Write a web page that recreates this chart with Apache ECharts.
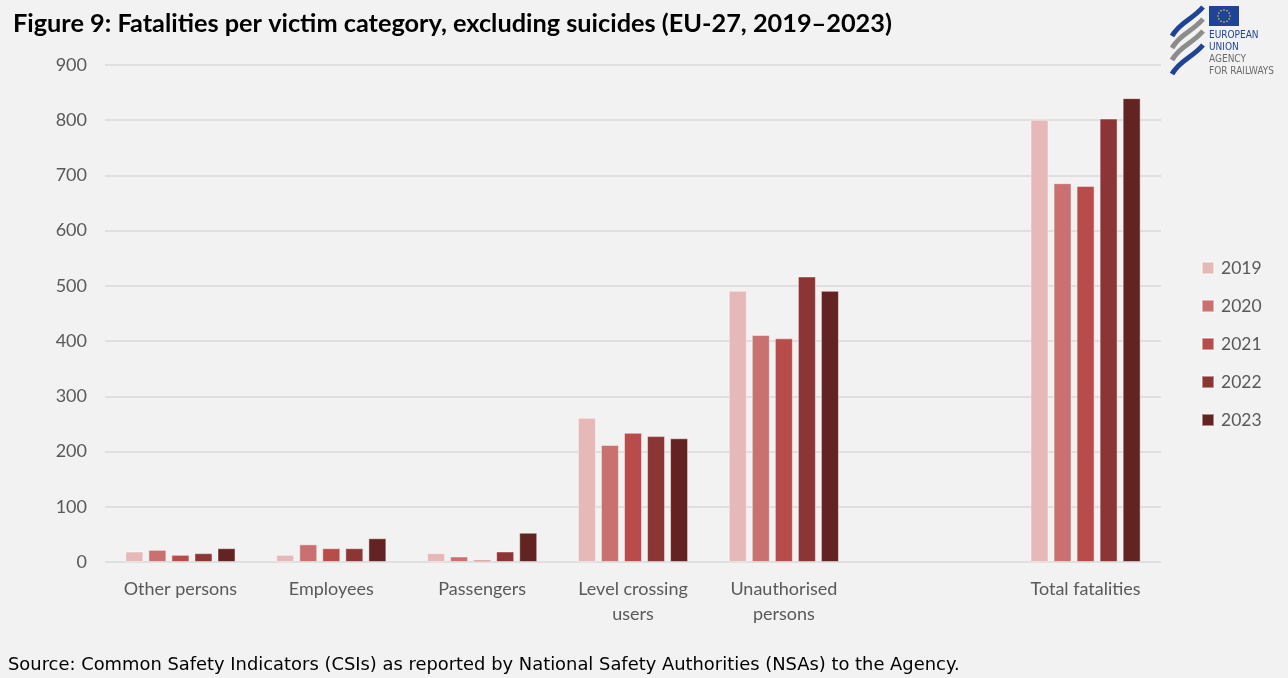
<!DOCTYPE html>
<html>
<head>
<meta charset="utf-8">
<script src="https://cdn.jsdelivr.net/npm/echarts@6/dist/echarts.min.js"></script>
<style>
  html, body { margin: 0; padding: 0; background: #f2f2f2; }
  #chart { width: 1288px; height: 678px; }
</style>
</head>
<body>
<div id="chart"></div>
<script>
// Victim categories; the empty slot separates the total from the breakdown
const categories = ['Other persons', 'Employees', 'Passengers', 'Level crossing\nusers', 'Unauthorised\npersons', '', 'Total fatalities'];
const years = ['2019', '2020', '2021', '2022', '2023'];
const yearColors = ['#e6b8b7', '#c87170', '#b84c4a', '#8b3534', '#632322'];

// Fatalities per year, in category order ('-' = empty slot)
const values2019 = [19, 13, 16, 261, 491, '-', 801];
const values2020 = [22, 32, 10, 212, 411, '-', 686];
const values2021 = [13, 25, 4, 234, 405, '-', 681];
const values2022 = [16, 25, 19, 228, 517, '-', 803];
const values2023 = [25, 43, 53, 224, 491, '-', 840];
const seriesValues = [values2019, values2020, values2021, values2022, values2023];

const yTicks = { min: 0, max: 900, interval: 100 };

const titleText = 'Figure 9: Fatalities per victim category, excluding suicides (EU-27, 2019\u20132023)';
const sourceText = 'Source: Common Safety Indicators (CSIs) as reported by National Safety Authorities (NSAs) to the Agency.';

const chart = echarts.init(document.getElementById('chart'), null, { renderer: 'canvas' });

const labelFont = 'Lato, "Open Sans", sans-serif';

// Agency logo: striped emblem, EU flag and name
const logo = [];
const stripes = [
  { y: 0, color: '#1f4396' },
  { y: 12, color: '#8c8c8c' },
  { y: 24, color: '#8c8c8c' },
  { y: 38, color: '#1f4396' }
];
stripes.forEach(s => {
  logo.push({
    type: 'bezierCurve',
    shape: { x1: 1172, y1: 36 + s.y, cpx1: 1180, cpy1: 22 + s.y, cpx2: 1192, cpy2: 20 + s.y, x2: 1203, y2: 7 + s.y },
    style: { stroke: s.color, lineWidth: 5, fill: null },
    silent: true
  });
});
logo.push({ type: 'rect', shape: { x: 1209, y: 6, width: 30, height: 20 }, style: { fill: '#1f4396' }, silent: true });
for (let i = 0; i < 12; i++) {
  const a = i * Math.PI / 6;
  logo.push({
    type: 'circle',
    shape: { cx: 1224 + 6 * Math.cos(a), cy: 16 + 6 * Math.sin(a), r: 0.8 },
    style: { fill: '#f2d32a' },
    silent: true
  });
}
const logoLines = [
  { text: 'EUROPEAN', y: 36, color: '#1f4396' },
  { text: 'UNION', y: 48, color: '#1f4396' },
  { text: 'AGENCY', y: 60, color: '#6b6b6b' },
  { text: 'FOR RAILWAYS', y: 72, color: '#6b6b6b' }
];
logoLines.forEach(l => {
  logo.push({
    type: 'text',
    left: 1209, top: l.y - 6,
    style: { text: l.text, fill: l.color, font: '10px "Liberation Sans Narrow", "DejaVu Sans Condensed", sans-serif' },
    silent: true
  });
});

const option = {
  backgroundColor: '#f2f2f2',
  animation: false,
  title: {
    text: titleText,
    left: 8,
    top: 6,
    textStyle: { fontFamily: labelFont, fontWeight: 'bold', fontSize: 25.3, color: '#000000' }
  },
  grid: { left: 105, right: 127, top: 65, bottom: 116, containLabel: false },
  legend: {
    orient: 'vertical',
    left: 1196,
    top: 254,
    itemWidth: 12,
    itemHeight: 12,
    itemGap: 20,
    icon: 'rect',
    textStyle: { fontFamily: labelFont, fontSize: 17.5, color: '#595959', padding: [0, 0, 0, 2] },
    data: years
  },
  xAxis: {
    type: 'category',
    data: categories,
    axisTick: { show: false },
    axisLine: { show: false },
    axisLabel: { fontFamily: labelFont, fontSize: 18, color: '#595959', margin: 15, lineHeight: 25, interval: 0 }
  },
  yAxis: {
    type: 'value',
    min: yTicks.min,
    max: yTicks.max,
    interval: yTicks.interval,
    axisLine: { show: false },
    axisTick: { show: false },
    axisLabel: { fontFamily: labelFont, fontSize: 18, color: '#595959', margin: 18 },
    splitLine: { lineStyle: { color: '#d9d9d9', width: 1.5 } }
  },
  series: years.map((y, i) => ({
    name: y,
    type: 'bar',
    data: seriesValues[i],
    barWidth: 18,
    barGap: '28%',
    itemStyle: { color: yearColors[i], borderColor: 'rgba(255,255,255,0.45)', borderWidth: 1 }
  })),
  graphic: [
    ...logo,
    {
      type: 'text',
      left: 8,
      top: 656,
      style: { text: sourceText, fill: '#000000', font: '17.9px "DejaVu Sans", sans-serif' },
      silent: true
    }
  ]
};

chart.setOption(option);
</script>
</body>
</html>
